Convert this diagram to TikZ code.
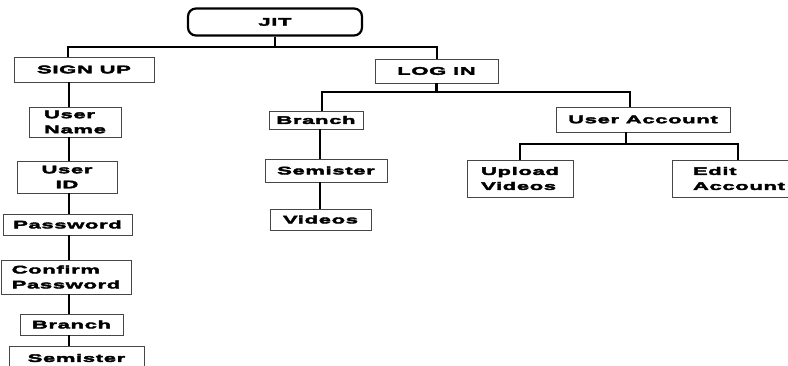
\documentclass[tikz,border=0pt]{standalone}
\usepackage{fontspec}
\newfontfamily\jfont{Liberation Sans}[FakeStretch=2.0, LetterSpace=6, BoldFeatures={FakeBold=3.5}]
\begin{document}
\begin{tikzpicture}[x=1pt,y=-1pt,
  box/.style={draw=gray!55!black, line width=0.9pt, fill=white, inner sep=0pt,
    font=\jfont\bfseries\fontsize{11}{15}\selectfont, align=center},
  conn/.style={line width=2.8pt, black}]
\useasboundingbox (0,0) rectangle (788,366);
% nodes
\node[box, draw=black, line width=2.2pt, rounded corners=8pt, minimum width=174pt, minimum height=27pt] (jit) at (275,22) {JIT};
\node[box, minimum width=140pt, minimum height=25pt] (signup) at (84,69.5) {SIGN UP};
\node[box, minimum width=123pt, minimum height=24pt] (login) at (436.5,71) {LOG IN};
% sign up column
\node[box, align=left, minimum width=92pt, minimum height=30pt] (uname) at (75,122) {User\\Name};
\node[box, minimum width=100pt, minimum height=32pt] (uid) at (67,177) {User\\ID};
\node[box, minimum width=129pt, minimum height=21pt] (pwd) at (67.5,224.5) {Password};
\node[box, align=left, minimum width=130pt, minimum height=34pt] (cpwd) at (66,277) {Confirm\\Password};
\node[box, minimum width=103pt, minimum height=21pt] (sbranch) at (71.5,324.5) {Branch};
\node[box, minimum width=135pt, minimum height=24pt] (ssem) at (76.5,358) {Semister};
% log in side
\node[box, minimum width=94pt, minimum height=18pt] (lbranch) at (316,120) {Branch};
\node[box, minimum width=122pt, minimum height=23pt] (lsem) at (326,170.5) {Semister};
\node[box, minimum width=101pt, minimum height=21pt] (vid) at (320.5,219.5) {Videos};
\node[box, minimum width=174pt, minimum height=25pt] (uacc) at (643,119.5) {User Account};
\node[box, align=left, minimum width=106pt, minimum height=37pt] (upl) at (520,178.5) {Upload\\Videos};
\node[box, align=left, text width=86pt, minimum width=128pt, minimum height=37pt] (edit) at (736,178.5) {Edit\\Account};
% junction coordinates
\coordinate (b1l) at (68,47);
\coordinate (b1r) at (437,47);
\coordinate (sc) at (69,0);
\coordinate (b2l) at (322,92);
\coordinate (b2r) at (630,92);
\coordinate (lc) at (320,0);
\coordinate (uc) at (626,0);
\coordinate (b3l) at (520,144);
\coordinate (b3r) at (738,144);
% connectors
\draw[conn] (jit.south) -- (jit.south |- b1l);
\draw[conn] (signup.north -| b1l) -- (b1l) -- (b1r) -- (login.north -| b1r);
\draw[conn] (signup.south -| sc) -- (uname.north -| sc);
\draw[conn] (uname.south -| sc) -- (uid.north -| sc);
\draw[conn] (uid.south -| sc) -- (pwd.north -| sc);
\draw[conn] (pwd.south -| sc) -- (cpwd.north -| sc);
\draw[conn] (cpwd.south -| sc) -- (sbranch.north -| sc);
\draw[conn] (sbranch.south -| sc) -- (ssem.north -| sc);
\draw[conn] (login.south) -- (login.south |- b2l);
\draw[conn] (lbranch.north -| b2l) -- (b2l) -- (b2r) -- (uacc.north -| b2r);
\draw[conn] (lbranch.south -| lc) -- (lsem.north -| lc);
\draw[conn] (lsem.south -| lc) -- (vid.north -| lc);
\draw[conn] (uacc.south -| uc) -- (uc |- b3l);
\draw[conn] (upl.north -| b3l) -- (b3l) -- (b3r) -- (edit.north -| b3r);
\end{tikzpicture}
\end{document}
